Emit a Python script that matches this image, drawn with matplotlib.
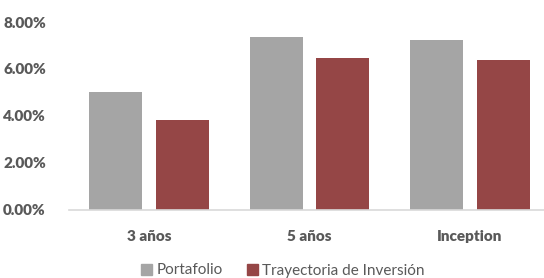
import matplotlib
matplotlib.use("Agg")
import matplotlib.pyplot as plt
import numpy as np
from matplotlib.ticker import FuncFormatter
from matplotlib.patches import Patch

categories = ["3 años", "5 años", "Inception"]
series_names = ["Portafolio", "Trayectoria de Inversión"]
portafolio = [5.00, 7.34, 7.23]
trayectoria = [3.84, 6.45, 6.40]
yticks = [0, 2, 4, 6, 8]

colors = ["#A5A5A5", "#954646"]
text_color = "#595959"
plt.rcParams['font.family'] = ['Lato', 'DejaVu Sans']

W, H = 544, 278
fig = plt.figure(figsize=(W / 100, H / 100), dpi=100)
left, right = 68.75, 550.25
bottom, top = 209.5, 22.0
ax = fig.add_axes([left / W, 1 - bottom / H, (right - left) / W, (bottom - top) / H])

x = np.arange(len(categories))
bw = 0.333
off = 0.207
ax.bar(x - off, portafolio, bw, color=colors[0], label=series_names[0], zorder=2)
ax.bar(x + off, trayectoria, bw, color=colors[1], label=series_names[1], zorder=2)

ax.set_xlim(-0.5, len(categories) - 0.5)
ax.set_ylim(0, 8)
ax.set_yticks(yticks)
ax.yaxis.set_major_formatter(FuncFormatter(lambda v, p: f"{v:.2f}%"))
ax.set_xticks(x)
ax.set_xticklabels(categories)

for s in ["top", "right", "left"]:
    ax.spines[s].set_visible(False)
ax.spines["bottom"].set_color("#D9D9D9")
ax.spines["bottom"].set_linewidth(1.2)
ax.tick_params(axis="both", length=0, colors=text_color)
ax.tick_params(axis="y", pad=16.5)
ax.tick_params(axis="x", pad=15)
for lab in ax.get_yticklabels() + ax.get_xticklabels():
    lab.set_fontweight("heavy")
    lab.set_fontsize(11)
    lab.set_color(text_color)

handles = [Patch(color=colors[0]), Patch(color=colors[1])]
fig.legend(handles, series_names, loc="center", bbox_to_anchor=(283 / W, 1 - 270.5 / H),
           ncol=2, frameon=False, fontsize=11, handlelength=0.7, handleheight=0.7,
           handletextpad=0.3, columnspacing=1.6, labelcolor=text_color)

fig.savefig("out.png", dpi=100)
